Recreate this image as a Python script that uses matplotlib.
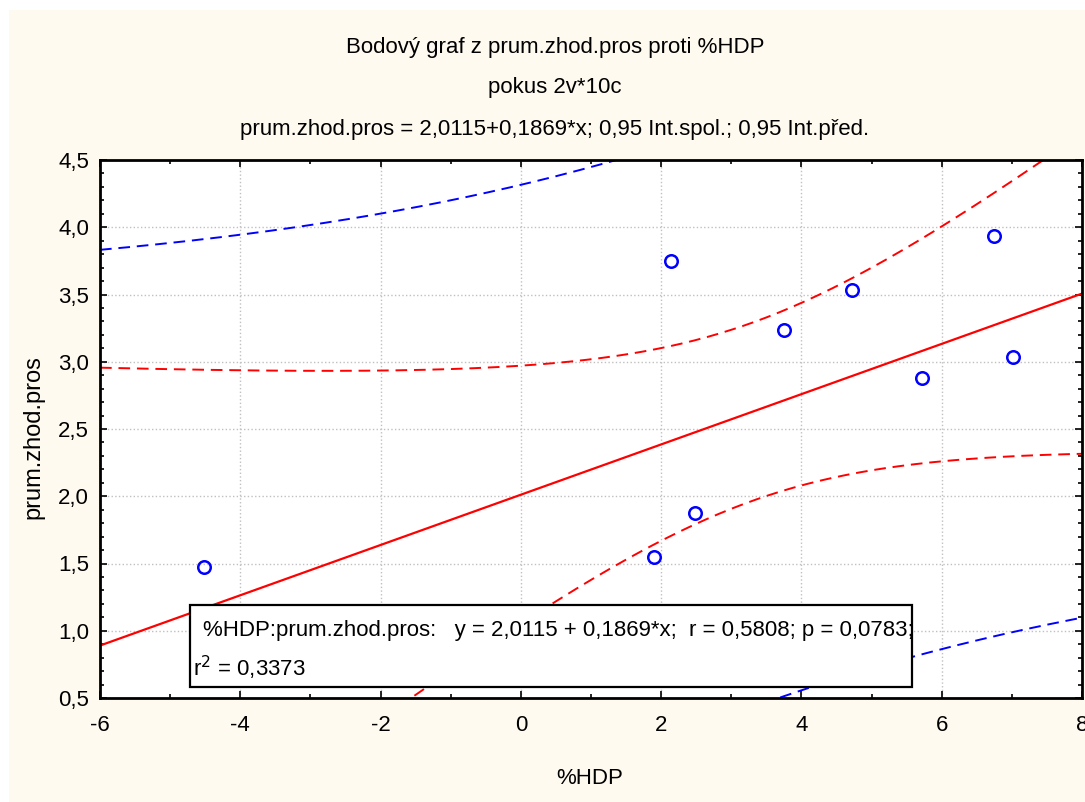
import numpy as np
import matplotlib
matplotlib.use("Agg")
import matplotlib.pyplot as plt
from matplotlib.patches import Rectangle
from matplotlib.ticker import MultipleLocator, FuncFormatter

plt.rcParams['font.family'] = ['Liberation Sans', 'DejaVu Sans']

# data (the 10th case sits under the stats box)
hdp = [-4.52, 1.90, 2.48, 2.14, 3.75, 4.72, 5.72, 6.75, 7.02, 3.01]
zhod = [1.474, 1.548, 1.875, 3.75, 3.236, 3.533, 2.879, 3.935, 3.035, 1.012]

title_lines = ["Bodový graf z prum.zhod.pros proti %HDP",
               "pokus 2v*10c",
               "prum.zhod.pros = 2,0115+0,1869*x; 0,95 Int.spol.; 0,95 Int.před."]
stats_line1 = "%HDP:prum.zhod.pros:   y = 2,0115 + 0,1869*x;  r = 0,5808; p = 0,0783;"
stats_line2 = "r$^2$ = 0,3373"

x = np.array(hdp)
y = np.array(zhod)
n = len(x)

# regression + 95% bands
b, a = np.polyfit(x, y, 1)
resid = y - (a + b * x)
s = np.sqrt(np.sum(resid ** 2) / (n - 2))
sxx = np.sum((x - x.mean()) ** 2)
t = 2.306  # t(0.975, 8)
xx = np.linspace(-6, 8, 300)
yy = a + b * xx
ci = t * s * np.sqrt(1.0 / n + (xx - x.mean()) ** 2 / sxx)
pi = t * s * np.sqrt(1 + 1.0 / n + (xx - x.mean()) ** 2 / sxx)

fs = 16
bg = '#fffaf0'
fig = plt.figure(figsize=(10.85, 8.02), dpi=100)
fig.patch.set_facecolor('white')
fig.patches.append(Rectangle((9 / 1085, 0), 1, 1 - 10 / 802, transform=fig.transFigure,
                             facecolor=bg, edgecolor='none', zorder=-10))

ax = fig.add_axes([100 / 1085, 1 - 698 / 802, 982 / 1085, 538 / 802])
ax.set_facecolor('white')

dash = (0, (6, 3.5))
ax.plot(xx, yy, color='red', lw=1.6, zorder=2)
ax.plot(xx, yy + ci, color='red', lw=1.4, ls=dash, zorder=2)
ax.plot(xx, yy - ci, color='red', lw=1.4, ls=dash, zorder=2)
ax.plot(xx, yy + pi, color='blue', lw=1.4, ls=dash, zorder=2)
ax.plot(xx, yy - pi, color='blue', lw=1.4, ls=dash, zorder=2)
ax.plot(x, y, 'o', ms=9, mfc='none', mec='blue', mew=1.8, zorder=3)

ax.set_xlim(-6, 8)
ax.set_ylim(0.5, 4.5)
ax.xaxis.set_major_locator(MultipleLocator(2))
ax.xaxis.set_minor_locator(MultipleLocator(1))
ax.yaxis.set_major_locator(MultipleLocator(0.5))
ax.yaxis.set_minor_locator(MultipleLocator(0.1))
ax.yaxis.set_major_formatter(FuncFormatter(lambda v, p: f"{v:.1f}".replace('.', ',')))
ax.xaxis.set_major_formatter(FuncFormatter(lambda v, p: f"{v:.0f}"))
ax.tick_params(which='both', direction='in', top=True, right=True, width=1.2, colors='black')
ax.tick_params(which='major', length=5, labelsize=fs)
ax.tick_params(which='minor', length=3)
ax.tick_params(axis='x', pad=12)
ax.tick_params(axis='y', pad=8)
ax.grid(True, which='major', color='#c0c0c0', ls=':', lw=1)
ax.set_axisbelow(True)
for sp in ax.spines.values():
    sp.set_linewidth(2)

# stats box
ax.add_patch(Rectangle((0.0917, 0.0204), 0.7353, 0.1525, transform=ax.transAxes,
                       facecolor='white', edgecolor='black', lw=1.6, zorder=5))
ax.text(0.105, 0.126, stats_line1, transform=ax.transAxes, fontsize=16,
        va='center', ha='left', zorder=6)
ax.text(0.0947, 0.056, stats_line2, transform=ax.transAxes, fontsize=16,
        va='center', ha='left', zorder=6)

for txt, yp in zip(title_lines, [47, 88, 130]):
    fig.text(555 / 1085, 1 - yp / 802, txt, ha='center', va='center', fontsize=fs)

fig.text(590 / 1085, 1 - 778 / 802, "%HDP", ha='center', va='center', fontsize=fs)
fig.text(33 / 1085, 1 - 437 / 802, "prum.zhod.pros", ha='center', va='center',
         rotation=90, fontsize=17)

fig.savefig("out.png", dpi=100, facecolor=fig.get_facecolor())
